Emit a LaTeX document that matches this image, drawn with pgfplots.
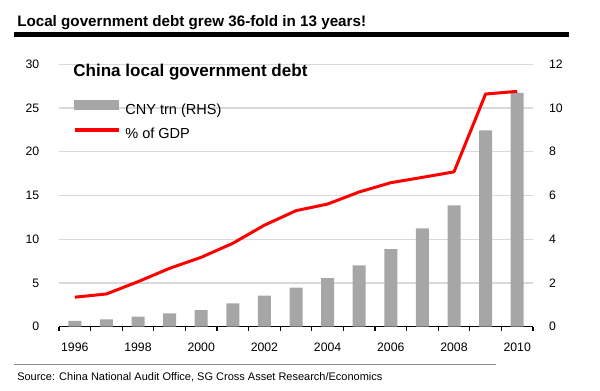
\documentclass[border=0pt]{standalone}
\usepackage{pgfplots}
\pgfplotsset{compat=1.18}
\usepackage{pgfplotstable}
\usepackage{fontspec}
\setmainfont{Liberation Sans}
\definecolor{bargray}{HTML}{A6A6A6}
\definecolor{gridgray}{HTML}{D9D9D9}
\definecolor{linered}{HTML}{FF0000}

\pgfplotstableread{
year idx debt gdp
1996 0 0.27 3.37
1997 1 0.33 3.74
1998 2 0.46 5.14
1999 3 0.61 6.67
2000 4 0.76 7.93
2001 5 1.06 9.53
2002 6 1.42 11.6
2003 7 1.79 13.26
2004 8 2.22 14.02
2005 9 2.80 15.4
2006 10 3.55 16.46
2007 11 4.49 17.07
2008 12 5.55 17.7
2009 13 8.98 26.6
2010 14 10.69 26.9
}\data

\pgfplotsset{
  base/.style={
    at={(44.25pt,47.5pt)}, anchor=south west,
    width=355.5pt, height=196.8pt, scale only axis,
    xmin=-0.5, xmax=14.5,
    tick label style={font=\fontsize{9.2}{11}\selectfont},
    /pgf/number format/assume math mode=true,
  }
}

\begin{document}
\begin{tikzpicture}
\path[use as bounding box] (0pt,0pt) rectangle (450pt,292.5pt);
\node[anchor=base west, font=\fontsize{11.4}{13}\selectfont\bfseries, inner sep=0pt] at (12.75pt,272.5pt) {Local government debt grew 36-fold in 13 years!};
\draw[line width=3.75pt] (10.5pt,266.25pt) -- (426.75pt,266.25pt);
\draw[line width=0.9pt, color=black!45] (10.5pt,19.3pt) -- (372pt,19.3pt);
\node[anchor=base west, font=\fontsize{8.25}{9.5}\selectfont, inner sep=0pt] at (12.75pt,7.5pt) {Source: China National Audit Office, SG Cross Asset Research/Economics};

% grid, left axis, x axis
\begin{axis}[base,
  ymin=0, ymax=30, ytick={0,5,...,30},
  ymajorgrids, grid style={gridgray, line width=1pt},
  axis x line*=bottom, axis y line*=left,
  y axis line style={draw=none}, ytick style={draw=none},
  x axis line style={black, line width=1pt, -},
  xtick={0,2,...,14}, xticklabels={1996,1998,2000,2002,2004,2006,2008,2010},
  major x tick style={draw=none},
  minor xtick={-0.5,0.5,...,14.5},
  minor x tick style={black, line width=0.9pt},
  minor tick length=3pt, tick align=outside,
  yticklabel style={xshift=-7pt},
  xticklabel style={yshift=-4.5pt},
]
\end{axis}

% bars, right axis
\begin{axis}[base,
  ymin=0, ymax=12, ytick={0,2,...,12},
  axis y line*=right, axis x line=none,
  y axis line style={draw=none}, ytick style={draw=none},
  yticklabel style={xshift=8.5pt},
  ybar, bar width=9.75pt, bar shift=0pt,
]
\addplot[fill=bargray, draw=none] table[x=idx, y=debt]{\data};
\end{axis}

% line + legend
\begin{axis}[base,
  ymin=0, ymax=30, hide axis,
  legend style={draw=none, fill=none, at={(0,1)}, anchor=north west,
    xshift=10.5pt, yshift=-27pt, inner sep=0pt, outer sep=0pt,
    font=\fontsize{10.9}{12}\selectfont,
    nodes={inner sep=0pt, text height=7.8pt, text depth=2.2pt},
    column sep=3.75pt, row sep=8.5pt},
  legend cell align=left,
]
\addlegendimage{legend image code/.code={\fill[bargray] (0pt,0.5pt) rectangle (33pt,7.3pt);}}
\addlegendentry{CNY trn (RHS)}
\addplot[linered, line width=2.25pt, line join=round,
  legend image code/.code={\draw[linered, line width=2.5pt] (0pt,3.9pt) -- (33pt,3.9pt);}]
  table[x=idx, y=gdp]{\data};
\addlegendentry{\% of GDP}
\end{axis}

\node[anchor=base west, font=\fontsize{12.8}{14}\selectfont\bfseries, inner sep=0pt] at (54.75pt,235pt) {China local government debt};
\end{tikzpicture}
\end{document}
